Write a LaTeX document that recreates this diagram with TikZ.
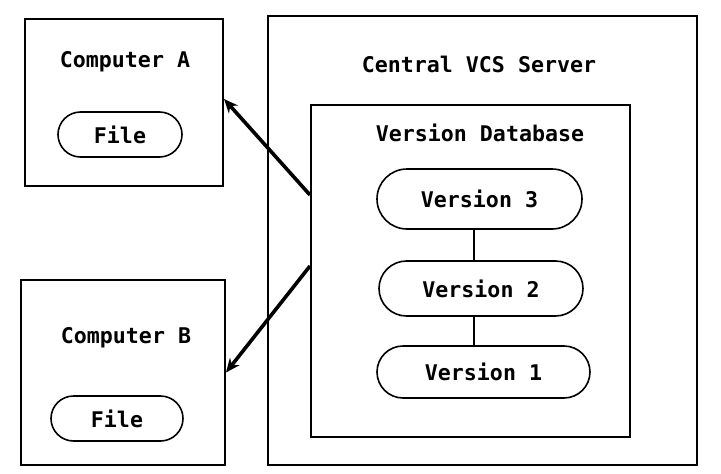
\documentclass[tikz,border=0pt]{standalone}
\usepackage{fontspec}
\setmonofont{DejaVu Sans Mono}
\usetikzlibrary{arrows.meta,shapes.misc}
\tikzset{
  box/.style={draw, line width=2pt, rectangle, inner sep=0pt},
  pill/.style={draw, line width=1.6pt, rounded rectangle, inner sep=0pt,
    font=\ttfamily\bfseries\fontsize{21.6}{26}\selectfont},
  lbl/.style={font=\ttfamily\bfseries\fontsize{21.6}{26}\selectfont, inner sep=0pt},
  link/.style={line width=1.6pt},
  flow/.style={line width=3.6pt, -{Stealth[length=14pt,width=12pt]}}
}
\begin{document}
\begin{tikzpicture}[x=1pt,y=-1pt]
\useasboundingbox[fill=white] (0,0) rectangle (721,474);
% boxes
\node[box, minimum width=198pt, minimum height=167pt] (compA) at (124,102.5) {};
\node[box, minimum width=204pt, minimum height=185pt] (compB) at (123,372.5) {};
\node[box, minimum width=429pt, minimum height=449pt] (server) at (482.5,240.5) {};
\node[box, minimum width=319pt, minimum height=332pt] (db) at (470.5,271) {};
% labels
\node[lbl] (labA) at (125,62) {Computer A};
\node[lbl] (labB) at (126,338) {Computer B};
\node[lbl] (labS) at (479,64) {Central VCS Server};
\node[lbl] (labD) at (480,133) {Version Database};
% files
\node[pill, minimum width=124pt, minimum height=45pt] (fileA) at (120,134.5) {File};
\node[pill, minimum width=132pt, minimum height=45pt] (fileB) at (117,418.5) {File};
% versions
\node[pill, minimum width=205pt, minimum height=60pt] (v3) at (479.5,199) {Version 3};
\node[pill, minimum width=204pt, minimum height=55pt] (v2) at (481,288.5) {Version 2};
\node[pill, minimum width=213pt, minimum height=52pt] (v1) at (483.5,372) {Version 1};
\draw[link] (v3.south -| 474,0) -- (v2.north -| 474,0);
\draw[link] (v2.south -| 474,0) -- (v1.north -| 474,0);
% arrows
\coordinate (s1) at ([yshift=76pt]db.west);
\coordinate (s2) at ([yshift=5pt]db.west);
\draw[flow] (s1) -- ([yshift=3.5pt]compA.east);
\draw[flow] (s2) -- (compB.east);
\end{tikzpicture}
\end{document}
